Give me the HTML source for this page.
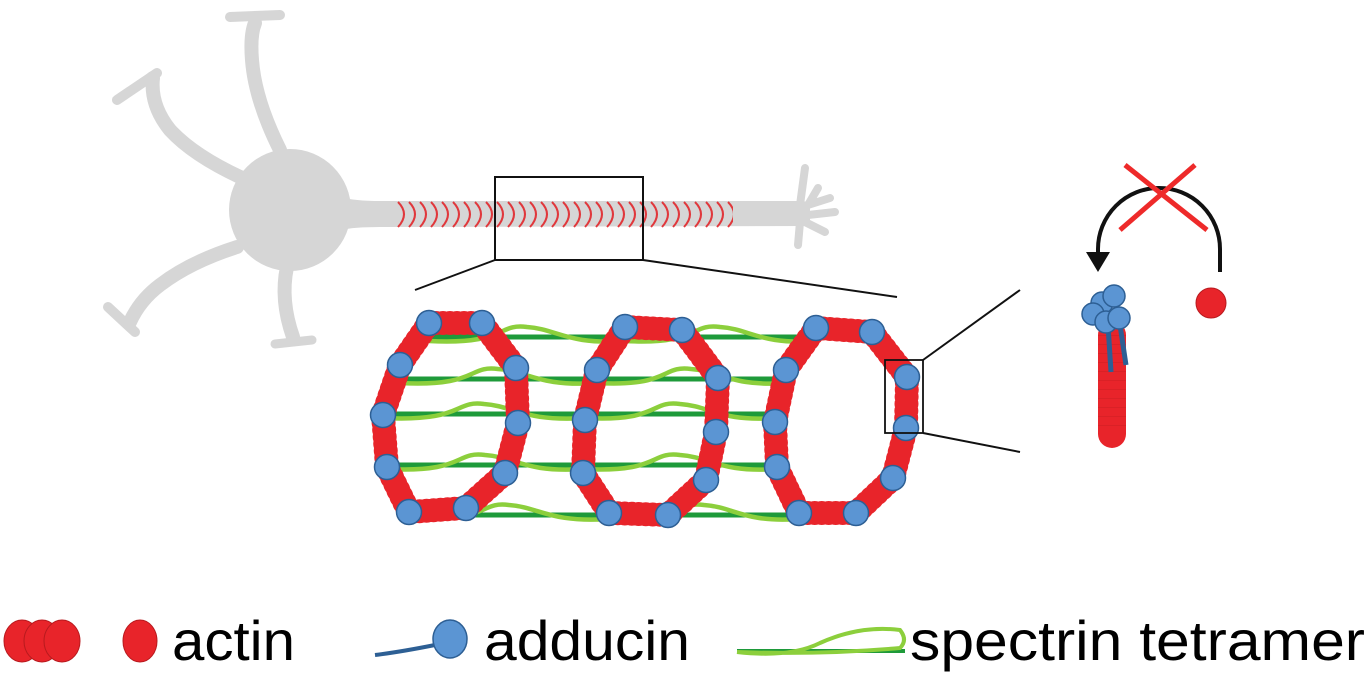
<!DOCTYPE html>
<html><head><meta charset="utf-8"><style>
html,body{margin:0;padding:0;background:#fff;}
svg{display:block;}
text{font-family:"Liberation Sans",sans-serif;}
</style></head><body>
<svg width="1369" height="678" viewBox="0 0 1369 678" xmlns="http://www.w3.org/2000/svg">
<defs>
<pattern id="arc" x="397" y="0" width="11" height="678" patternUnits="userSpaceOnUse">
<path d="M1 202 Q13 214 1 227" fill="none" stroke="#e0383c" stroke-width="2"/>
</pattern>
</defs>
<g fill="none" stroke="#d6d6d6" stroke-linecap="round" stroke-linejoin="round">
 <path d="M280 150 Q255 100 252 60 Q250 35 255 23" stroke-width="14"/>
 <path d="M230 17 L280 15" stroke-width="10"/>
 <path d="M240 177 Q193 155 170 130 Q150 105 153 78" stroke-width="14"/>
 <path d="M117 100 L157 73" stroke-width="10"/>
 <path d="M237 247 Q190 262 160 285 Q140 300 130 322" stroke-width="14"/>
 <path d="M108 307 L135 332" stroke-width="10"/>
 <path d="M287 267 Q280 300 293 337" stroke-width="14"/>
 <path d="M275 344 L312 340" stroke-width="9"/>
 <path d="M780 213 L808 205 L818 188 M808 205 L830 198 M808 215 L835 212 M805 222 L825 232 M800 222 L798 245 M800 205 L805 168" stroke-width="8"/>
</g>
<circle cx="290" cy="210" r="61" fill="#d6d6d6"/>
<path d="M340 197 Q355 201 380 201 L800 201 L810 202 L810 226 L380 227 Q355 227 340 230 Z" fill="#d6d6d6"/>
<rect x="397" y="200" width="336" height="29" fill="url(#arc)"/>
<rect x="495" y="177" width="148" height="83" fill="none" stroke="#111" stroke-width="2"/>
<line x1="495" y1="260" x2="415" y2="290" stroke="#111" stroke-width="2"/>
<line x1="643" y1="260" x2="897" y2="297" stroke="#111" stroke-width="2"/>

<g stroke="#1e9a3a" stroke-width="5">
<line x1="429" y1="337" x2="625" y2="337"/><line x1="400" y1="379" x2="597" y2="379"/><line x1="383" y1="414" x2="585" y2="414"/><line x1="387" y1="465" x2="583" y2="465"/><line x1="409" y1="515" x2="609" y2="515"/>
<line x1="625" y1="337" x2="816" y2="337"/><line x1="597" y1="379" x2="786" y2="379"/><line x1="585" y1="414" x2="775" y2="414"/><line x1="583" y1="465" x2="777" y2="465"/><line x1="609" y1="515" x2="799" y2="515"/>
</g>
<g fill="none" stroke="#8ccf3c" stroke-width="4.5">
<path d="M429 341 C507 345 497 323 527 327 C557 329 567 345 625 341"/>
<path d="M400 383 C478 387 468 365 498 369 C528 371 538 387 597 383"/>
<path d="M383 418 C464 422 454 400 484 404 C514 406 524 422 585 418"/>
<path d="M387 469 C465 473 455 451 485 455 C515 457 525 473 583 469"/>
<path d="M409 519 C489 523 479 501 509 505 C539 507 549 523 609 519"/>
<path d="M625 341 C700 345 690 323 720 327 C750 329 760 345 816 341"/>
<path d="M597 383 C671 387 661 365 691 369 C721 371 731 387 786 383"/>
<path d="M585 418 C660 422 650 400 680 404 C710 406 720 422 775 418"/>
<path d="M583 469 C660 473 650 451 680 455 C710 457 720 473 777 469"/>
<path d="M609 519 C684 523 674 501 704 505 C734 507 744 523 799 519"/>
</g>

<g fill="none" stroke="#e8242a" stroke-width="24" stroke-linecap="round" stroke-dasharray="0 7">
<polygon points="429,323 482,323 516,368 518,423 505,473 466,508 409,512 387,467 383,415 400,365"/>
<polygon points="625,327 682,330 718,378 716,432 706,480 668,515 609,513 583,473 585,420 597,370"/>
<polygon points="816,328 872,332 907,377 906,428 893,478 856,513 799,513 777,467 775,422 786,370"/>
</g>
<g fill="#5b95d3" stroke="#2d5f94" stroke-width="1.5">
<circle cx="429" cy="323" r="12.5"/><circle cx="482" cy="323" r="12.5"/><circle cx="516" cy="368" r="12.5"/><circle cx="518" cy="423" r="12.5"/><circle cx="505" cy="473" r="12.5"/><circle cx="466" cy="508" r="12.5"/><circle cx="409" cy="512" r="12.5"/><circle cx="387" cy="467" r="12.5"/><circle cx="383" cy="415" r="12.5"/><circle cx="400" cy="365" r="12.5"/>
<circle cx="625" cy="327" r="12.5"/><circle cx="682" cy="330" r="12.5"/><circle cx="718" cy="378" r="12.5"/><circle cx="716" cy="432" r="12.5"/><circle cx="706" cy="480" r="12.5"/><circle cx="668" cy="515" r="12.5"/><circle cx="609" cy="513" r="12.5"/><circle cx="583" cy="473" r="12.5"/><circle cx="585" cy="420" r="12.5"/><circle cx="597" cy="370" r="12.5"/>
<circle cx="816" cy="328" r="12.5"/><circle cx="872" cy="332" r="12.5"/><circle cx="907" cy="377" r="12.5"/><circle cx="906" cy="428" r="12.5"/><circle cx="893" cy="478" r="12.5"/><circle cx="856" cy="513" r="12.5"/><circle cx="799" cy="513" r="12.5"/><circle cx="777" cy="467" r="12.5"/><circle cx="775" cy="422" r="12.5"/><circle cx="786" cy="370" r="12.5"/>
</g>

<rect x="885" y="360" width="38" height="73" fill="none" stroke="#111" stroke-width="1.8"/>
<line x1="923" y1="360" x2="1020" y2="290" stroke="#111" stroke-width="2"/>
<line x1="923" y1="433" x2="1020" y2="452" stroke="#111" stroke-width="2"/>

<path d="M1220 272 L1220 249 A61 61 0 0 0 1098 249 L1098 256" fill="none" stroke="#111" stroke-width="4"/>
<polygon points="1086,252 1110,252 1098,272" fill="#111"/>
<line x1="1120" y1="230" x2="1195" y2="165" stroke="#ee2a2a" stroke-width="5"/>
<line x1="1207" y1="230" x2="1125" y2="165" stroke="#ee2a2a" stroke-width="5"/>
<circle cx="1211" cy="303" r="15" fill="#e8242a" stroke="#b81a1e" stroke-width="1"/>
<line x1="1112" y1="335" x2="1112" y2="434" stroke="#e8242a" stroke-width="28" stroke-linecap="round"/>
<line x1="1112" y1="335" x2="1112" y2="434" stroke="#b81a1e" stroke-width="28" stroke-dasharray="1 8" stroke-opacity="0.3"/>
<line x1="1108" y1="325" x2="1111" y2="372" stroke="#2d5f94" stroke-width="5"/>
<line x1="1120" y1="325" x2="1126" y2="365" stroke="#2d5f94" stroke-width="5"/>
<g fill="#5b95d3" stroke="#2d5f94" stroke-width="1.5">
<circle cx="1102" cy="303" r="11"/><circle cx="1114" cy="296" r="11"/><circle cx="1093" cy="314" r="11"/><circle cx="1106" cy="322" r="11"/><circle cx="1119" cy="318" r="11"/>
</g>

<g fill="#e8242a" stroke="#b81a1e" stroke-width="1">
<ellipse cx="22" cy="641" rx="18" ry="21"/><ellipse cx="42" cy="641" rx="18" ry="21"/><ellipse cx="62" cy="641" rx="18" ry="21"/>
<ellipse cx="140" cy="641" rx="17" ry="21"/>
</g>
<text x="172" y="660" font-size="56" textLength="123" lengthAdjust="spacingAndGlyphs">actin</text>
<path d="M375 655 Q400 652 435 645" fill="none" stroke="#2d5f94" stroke-width="4"/>
<ellipse cx="450" cy="639" rx="17" ry="19" fill="#5b95d3" stroke="#2d5f94" stroke-width="1.5"/>
<text x="484" y="660" font-size="56" textLength="206" lengthAdjust="spacingAndGlyphs">adducin</text>
<path d="M737 651 L905 651" stroke="#1e9a3a" stroke-width="4"/>
<path d="M737 652 Q790 658 820 643 Q860 625 900 630 Q908 640 900 648 Q820 655 737 652" fill="none" stroke="#8ccf3c" stroke-width="4"/>
<text x="910" y="660" font-size="56" textLength="455" lengthAdjust="spacingAndGlyphs">spectrin tetramer</text>
</svg>
</body></html>
